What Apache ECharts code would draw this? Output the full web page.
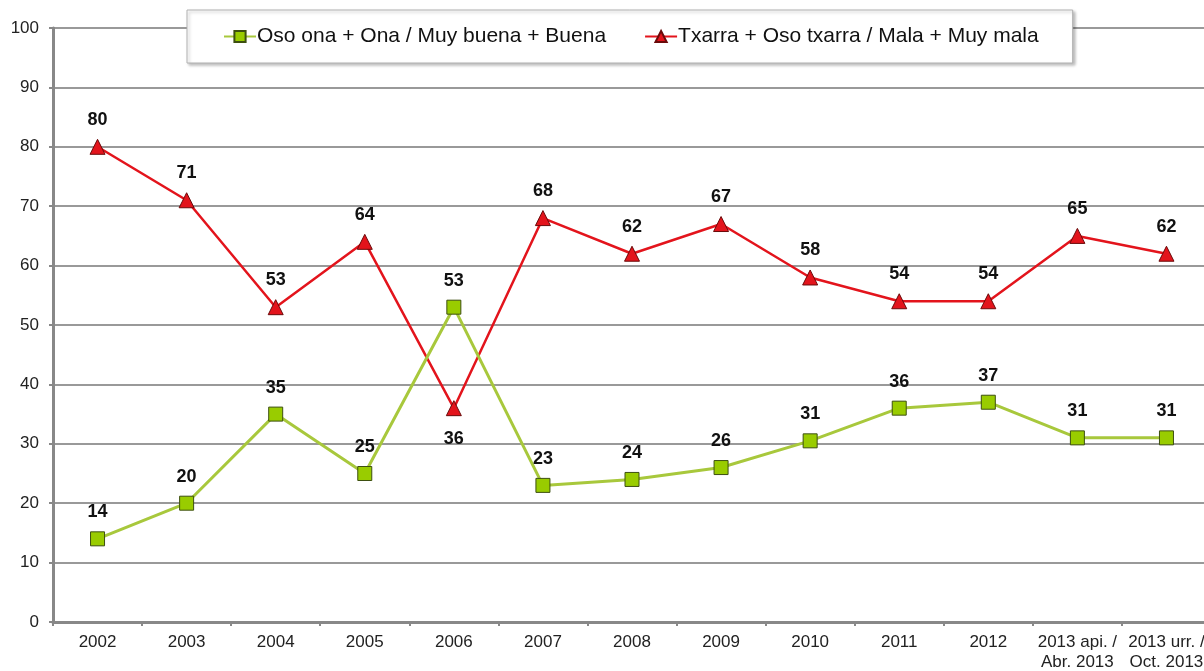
<!DOCTYPE html>
<html>
<head>
<meta charset="utf-8">
<script src="https://cdn.jsdelivr.net/npm/echarts@6/dist/echarts.min.js"></script>
<style>
  html, body { margin: 0; padding: 0; background: #fff; }
  #chart { width: 1204px; height: 671px; }
</style>
</head>
<body>
<div id="chart"></div>
<script>
// categories and values
const years = ['2002', '2003', '2004', '2005', '2006', '2007', '2008', '2009', '2010', '2011', '2012',
  '2013 api. /\nAbr. 2013', '2013 urr. /\nOct. 2013'];
const goodValues = [14, 20, 35, 25, 53, 23, 24, 26, 30.5, 36, 37, 31, 31];
const badValues = [80, 71, 53, 64, 36, 68, 62, 67, 58, 54, 54, 65, 62];
const goodName = 'Oso ona + Ona / Muy buena + Buena';
const badName = 'Txarra + Oso txarra / Mala + Muy mala';

const chart = echarts.init(document.getElementById('chart'));

const labelStyle = {
  show: true,
  position: 'top',
  distance: 10,
  fontSize: 18,
  fontWeight: 'bold',
  color: '#111',
  formatter: p => Math.round(p.value)
};

const option = {
  animation: false,
  textStyle: { fontFamily: 'Liberation Sans, Arial, sans-serif' },
  grid: { left: 53, top: 28, bottom: 49, right: -7, outerBoundsMode: 'none', containLabel: false },
  legend: {
    left: 187,
    top: 10,
    itemGap: 38,
    itemWidth: 32,
    itemHeight: 14,
    padding: [16, 34, 16, 36],
    backgroundColor: '#fff',
    borderColor: '#b0b0b0',
    borderWidth: 1,
    shadowColor: 'rgba(0,0,0,0.25)',
    shadowBlur: 3,
    shadowOffsetX: 2,
    shadowOffsetY: 2,
    textStyle: { fontSize: 21, color: '#111', padding: [0, 0, 0, -4] },
    data: [goodName, badName]
  },
  xAxis: {
    type: 'category',
    data: years,
    boundaryGap: true,
    axisLine: { lineStyle: { color: '#888', width: 3 } },
    axisTick: { show: true, length: 4, lineStyle: { color: '#888', width: 2 } },
    axisLabel: { color: '#222', fontSize: 17, margin: 10, lineHeight: 20, interval: 0 }
  },
  yAxis: {
    type: 'value',
    min: 0,
    max: 100,
    interval: 10,
    axisLine: { show: true, lineStyle: { color: '#888', width: 3 } },
    axisTick: { show: true, length: 4, lineStyle: { color: '#888', width: 2 } },
    axisLabel: { color: '#222', fontSize: 17, margin: 14 },
    splitLine: { lineStyle: { color: '#999', width: 2 } }
  },
  series: [
    {
      name: goodName,
      type: 'line',
      data: goodValues,
      symbol: 'rect',
      symbolSize: 14,
      lineStyle: { color: '#a8c83c', width: 3 },
      itemStyle: { color: '#99cc00', borderColor: '#3d4f10', borderWidth: 1 },
      label: labelStyle,
      z: 3
    },
    {
      name: badName,
      type: 'line',
      data: badValues.map((v, i) => i === 4
        ? { value: v, label: { position: 'bottom', distance: 14 } }
        : v),
      symbol: 'triangle',
      symbolSize: 15,
      lineStyle: { color: '#e3141c', width: 2.5 },
      itemStyle: { color: '#e3141c', borderColor: '#6a0a0a', borderWidth: 1 },
      label: labelStyle,
      z: 2
    }
  ]
};

chart.setOption(option);
</script>
</body>
</html>
